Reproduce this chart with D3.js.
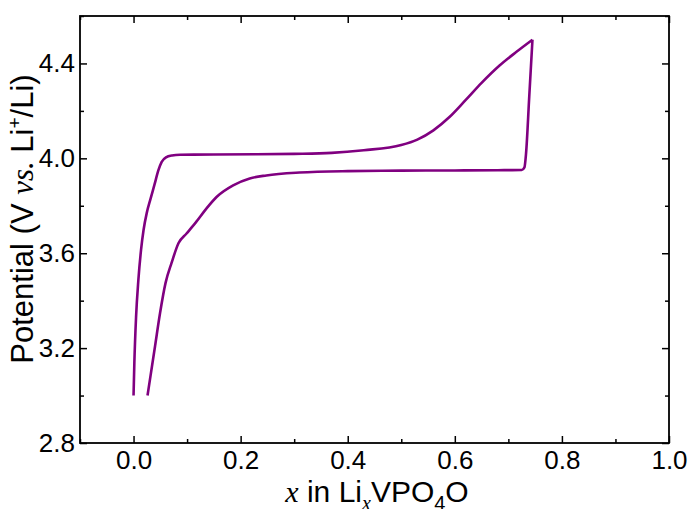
<!DOCTYPE html>
<html>
<head>
<meta charset="utf-8">
<script src="https://cdn.jsdelivr.net/npm/d3@7/dist/d3.min.js"></script>
<style>
  html, body { margin: 0; padding: 0; background: #fff; }
  svg { display: block; }
  .tick text { font-family: "Liberation Sans", Arial, sans-serif; font-size: 26px; fill: #000; }
</style>
</head>
<body>
<svg id="chart" width="688" height="509"></svg>
<script>
// Charge branch: x in LixVPO4O vs. potential (V)
const chargeX = [0.000, 0.0015, 0.0047, 0.009, 0.014, 0.0187, 0.0247, 0.0317, 0.0392, 0.0463, 0.0526, 0.0606, 0.0718, 0.0868,
                 0.15, 0.23, 0.30, 0.37, 0.43, 0.50, 0.53, 0.56, 0.59, 0.62, 0.65, 0.683, 0.714, 0.745];
const chargeV = [3.00, 3.137, 3.331, 3.487, 3.614, 3.698, 3.770, 3.829, 3.890, 3.949, 3.985, 4.004, 4.012, 4.015,
                 4.016, 4.017, 4.019, 4.023, 4.034, 4.056, 4.079, 4.118, 4.174, 4.245, 4.318, 4.390, 4.447, 4.50];

// Discharge branch
const dischargeX = [0.745, 0.739, 0.733, 0.730, 0.725, 0.68, 0.60, 0.50, 0.40, 0.31, 0.248, 0.217, 0.186,
                    0.155, 0.136, 0.117, 0.099, 0.0841, 0.0710, 0.0598, 0.0495, 0.0402, 0.0317, 0.0261];
const dischargeV = [4.50, 4.26, 4.02, 3.962, 3.951, 3.950, 3.949, 3.948, 3.946, 3.940, 3.928, 3.915, 3.886,
                    3.837, 3.788, 3.732, 3.683, 3.643, 3.559, 3.475, 3.348, 3.209, 3.083, 3.00];

const xMajor = [0.0, 0.2, 0.4, 0.6, 0.8, 1.0];
const xMinor = [-0.1, 0.1, 0.3, 0.5, 0.7, 0.9];
const yMajor = [2.8, 3.2, 3.6, 4.0, 4.4];
const yMinor = [3.0, 3.4, 3.8, 4.2, 4.6];

const plotL = 80, plotR = 669, plotT = 16, plotB = 443;
const svg = d3.select("#chart");

const x = d3.scaleLinear().domain([-0.1, 1.0]).range([plotL, plotR]);
const y = d3.scaleLinear().domain([2.8, 4.6]).range([plotB, plotT]);

const fmt = d3.format(".1f");

function drawAxis(gen, transform, ticks, minor, labels, pad) {
  const g = svg.append("g").attr("transform", transform);
  g.call(gen.tickValues(ticks).tickSizeInner(-7).tickSizeOuter(0).tickPadding(labels ? pad : 0)
            .tickFormat(labels ? fmt : () => ""));
  g.select(".domain").remove();
  g.selectAll(".tick line").attr("stroke", "#000").attr("stroke-width", 1.5);
  const gm = svg.append("g").attr("transform", transform);
  gm.call(gen.tickValues(minor).tickSizeInner(-4).tickSizeOuter(0).tickFormat(() => ""));
  gm.select(".domain").remove();
  gm.selectAll(".tick line").attr("stroke", "#000").attr("stroke-width", 1.5);
  return g;
}

drawAxis(d3.axisBottom(x), `translate(0,${plotB})`, xMajor, xMinor, true, 8);
drawAxis(d3.axisTop(x), `translate(0,${plotT})`, xMajor, xMinor, false, 0);
drawAxis(d3.axisLeft(y), `translate(${plotL},0)`, yMajor, yMinor, true, 5);
drawAxis(d3.axisRight(y), `translate(${plotR},0)`, yMajor, yMinor, false, 0);

// plot frame
svg.append("rect")
  .attr("x", plotL).attr("y", plotT)
  .attr("width", plotR - plotL).attr("height", plotB - plotT)
  .attr("fill", "none").attr("stroke", "#000").attr("stroke-width", 1.8);

// curves: both branches are monotone in x, so draw them sorted by x
const line = d3.line()
  .x(d => x(d[0])).y(d => y(d[1]))
  .curve(d3.curveMonotoneX);

const charge = chargeX.map((v, i) => [v, chargeV[i]]);
const discharge = dischargeX.map((v, i) => [v, dischargeV[i]]);

[charge, discharge].forEach(pts => {
  svg.append("path")
    .datum(pts.slice().sort((a, b) => a[0] - b[0]))
    .attr("d", line)
    .attr("fill", "none")
    .attr("stroke", "#800080")
    .attr("stroke-width", 2.6)
    .attr("stroke-linejoin", "round");
});

// y-axis title
const yt = svg.append("text")
  .attr("transform", "translate(33,219) rotate(-90)")
  .attr("text-anchor", "middle")
  .attr("font-family", "Liberation Sans, Arial, sans-serif")
  .attr("font-size", 31)
  .attr("fill", "#000");
yt.append("tspan").text("Potential (V ");
yt.append("tspan").attr("font-family", "Liberation Serif, Times New Roman, serif").attr("font-style", "italic").text("vs.");
yt.append("tspan").text(" Li");
yt.append("tspan").attr("font-size", 19).attr("dy", -12).text("+");
yt.append("tspan").attr("dy", 12).text("/Li)");

// x-axis title
const xt = svg.append("text")
  .attr("x", 377).attr("y", 502)
  .attr("text-anchor", "middle")
  .attr("font-family", "Liberation Sans, Arial, sans-serif")
  .attr("font-size", 30)
  .attr("fill", "#000");
xt.append("tspan").attr("font-family", "Liberation Serif, Times New Roman, serif").attr("font-style", "italic").text("x");
xt.append("tspan").text(" in Li");
xt.append("tspan").attr("font-family", "Liberation Serif, Times New Roman, serif").attr("font-style", "italic")
  .attr("font-size", 20).attr("dy", 8).text("x");
xt.append("tspan").attr("dy", -8).text("VPO");
xt.append("tspan").attr("font-size", 20).attr("dy", 8).text("4");
xt.append("tspan").attr("dy", -8).text("O");
</script>
</body>
</html>
